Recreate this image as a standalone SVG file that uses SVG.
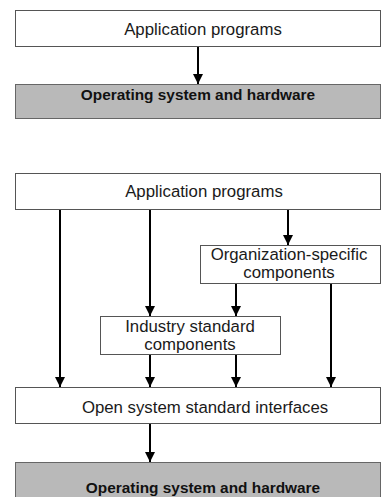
<svg xmlns="http://www.w3.org/2000/svg" width="381" height="497" viewBox="0 0 381 497">
<defs>
<style>
.box{fill:#ffffff;stroke:#555555;stroke-width:1}
.os{fill:#b9b9b9;stroke:#666666;stroke-width:1}
.t{font-family:"Liberation Sans",Arial,sans-serif;font-size:16.8px;fill:#1a1a1a;text-anchor:middle}
.tb{font-family:"Liberation Sans",Arial,sans-serif;font-size:15.4px;font-weight:bold;fill:#111111;text-anchor:middle}
.c{stroke:#000000;stroke-width:2;fill:none;marker-end:url(#ah)}
</style>
<marker id="ah" viewBox="0 0 10 10" refX="10" refY="5" markerWidth="5" markerHeight="5" markerUnits="strokeWidth" orient="auto">
<path d="M0,0 L10,5 L0,10 Z" fill="#000000"/>
</marker>
</defs>
<rect width="381" height="497" fill="#ffffff"/>
<g id="app1"><rect class="box" x="15.5" y="10.5" width="365" height="36"/><text class="t" x="203" y="35">Application programs</text></g>
<g id="os1"><rect class="os" x="15.5" y="84.5" width="365" height="34"/><text class="tb" x="198" y="100">Operating system and hardware</text></g>
<g id="app2"><rect class="box" x="15.5" y="173.5" width="365" height="36"/><text class="t" x="204" y="197">Application programs</text></g>
<g id="org"><rect class="box" x="200.5" y="245.5" width="180" height="38"/><text class="t" x="289" y="260">Organization-specific</text><text class="t" x="289" y="278">components</text></g>
<g id="ind"><rect class="box" x="100.5" y="316.5" width="180" height="38"/><text class="t" x="190" y="332">Industry standard</text><text class="t" x="190" y="350">components</text></g>
<g id="open"><rect class="box" x="15.5" y="387.5" width="365" height="36"/><text class="t" x="205" y="413">Open system standard interfaces</text></g>
<g id="os2"><rect class="os" x="15.5" y="462.5" width="365" height="36"/><text class="tb" x="203" y="493">Operating system and hardware</text></g>
<g id="connectors">
<line class="c" x1="198" y1="47" x2="198" y2="84"/>
<line class="c" x1="60" y1="210" x2="60" y2="387"/>
<line class="c" x1="150" y1="210" x2="150" y2="316"/>
<line class="c" x1="288" y1="210" x2="288" y2="245"/>
<line class="c" x1="236" y1="284" x2="236" y2="316"/>
<line class="c" x1="331" y1="284" x2="331" y2="387"/>
<line class="c" x1="150" y1="355" x2="150" y2="387"/>
<line class="c" x1="236" y1="355" x2="236" y2="387"/>
<line class="c" x1="150" y1="424" x2="150" y2="462"/>
</g>
</svg>
